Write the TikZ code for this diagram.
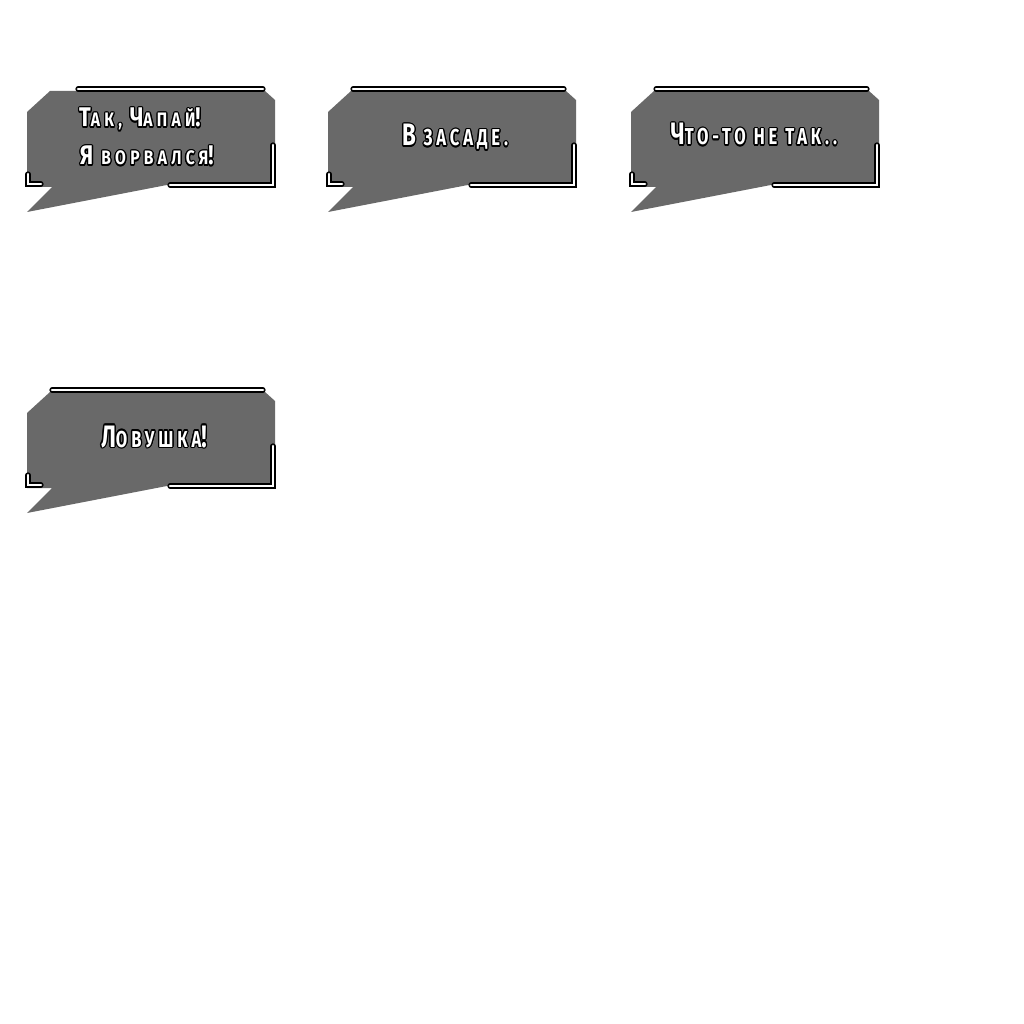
\documentclass[tikz,border=0pt]{standalone}
\usepackage{fontspec}
\usetikzlibrary{calc}
\newfontfamily\bubfont[FakeStretch=0.72,LetterSpace=17]{Fira Sans}
\newfontfamily\bubfontw[FakeStretch=0.8,LetterSpace=22]{Fira Sans}
\definecolor{bubgray}{HTML}{696969}
\newcommand\ltr[2]{{\fontsize{#1}{#1}\selectfont #2}}
\newcommand\bubble[3]{%
  \begin{scope}[shift={(#1,#2)}]
    \fill[bubgray] (50,91) -- (265,91) -- (275,100) -- (275,184) -- (172,184) -- (27,212) -- (52,187) -- (27,187) -- (27,112) -- cycle;
    \draw[frame] (#3,89) -- (263,89);
    \draw[frame] (273,145) -- (273,185) -- (170,185);
    \draw[frame] (28,174) -- (28,184) -- (41,184);
  \end{scope}}
\newcommand\otext[5]{% name, style, anchor, position, content
  \foreach \a in {0,30,...,330} {\node[#2,anchor=#3,text=black] (#1o\a) at ($(#4)+(\a:1.3pt)$) {#5};}
  \node[#2,anchor=#3,text=white] (#1) at (#4) {#5};}
\begin{document}
\begin{tikzpicture}[x=1pt,y=-1pt,
  frame/.style={draw=white, line width=2.6pt, line cap=round, line join=miter,
    preaction={draw=black, line width=5.2pt, line cap=round, line join=miter}},
  lbl/.style={font=\bubfont\bfseries, inner sep=0pt},
  lblw/.style={font=\bubfontw\bfseries, inner sep=0pt}]
\useasboundingbox (0,0) rectangle (1024,1024);
\fill[white] (0,0) rectangle (1024,1024);
\bubble{0}{0}{78}
\bubble{301}{0}{52}
\bubble{604}{0}{52}
\bubble{0}{301}{52}
\coordinate (p1a) at (79,127);
\coordinate (p1b) at (80,165);
\coordinate (p2) at (455,146);
\coordinate (p3) at (754,145);
\coordinate (p4) at (154,447);
\otext{t1a}{lblw}{base west}{p1a}{\ltr{27pt}{Т}\ltr{19.5pt}{АК, }\ltr{27pt}{Ч}\ltr{19.5pt}{АПАЙ}\ltr{27pt}{!}}
\otext{t1b}{lblw}{base west}{p1b}{\ltr{27pt}{Я}\ltr{19.5pt}{ ВОРВАЛСЯ}\ltr{27pt}{!}}
\otext{t2}{lbl}{base}{p2}{\ltr{31pt}{В}\ltr{23pt}{ ЗАСАДЕ.}}
\otext{t3}{lbl}{base}{p3}{\ltr{31pt}{Ч}\ltr{23pt}{ТО-ТО НЕ ТАК..}}
\otext{t4}{lbl}{base}{p4}{\ltr{31pt}{Л}\ltr{23pt}{ОВУШКА}\ltr{31pt}{!}}
\end{tikzpicture}
\end{document}
